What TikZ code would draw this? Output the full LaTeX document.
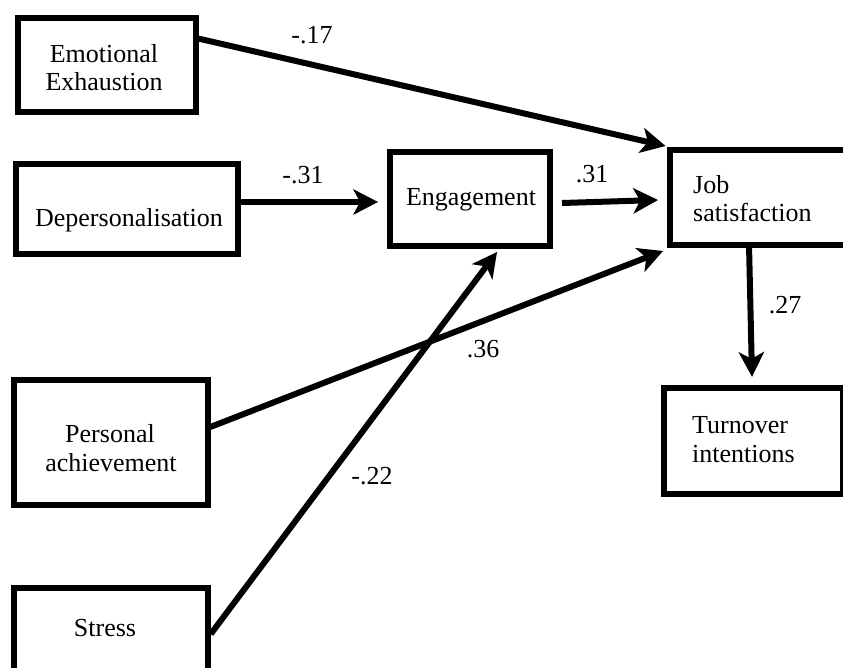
\documentclass[tikz,border=0pt]{standalone}
\usepackage{fontspec}
\setmainfont{Liberation Serif}
\usetikzlibrary{arrows.meta,calc}
\begin{document}
\begin{tikzpicture}[x=1pt,y=-1pt,
  box/.style={draw,line width=6pt,rectangle,inner sep=0pt,outer sep=0pt},
  txt/.style={font=\fontsize{26}{30}\selectfont,inner sep=0pt,anchor=base},
  ltxt/.style={txt,anchor=base west},
  arr/.style={line width=6pt,-{Stealth[length=25pt,width=26pt,inset=7pt,line width=0pt]}}]
\useasboundingbox (0,0) rectangle (843,667);
\clip (0,0) rectangle (843,667);
% boxes
\node[box,minimum width=178pt,minimum height=94pt] (EE) at (107,65) {};
\node[box,minimum width=222pt,minimum height=90pt] (Dep) at (127,209) {};
\node[box,minimum width=160pt,minimum height=94pt] (Eng) at (470,199) {};
\node[box,minimum width=180.5pt,minimum height=94.5pt] (JS) at (759.75,197.25) {};
\node[box,minimum width=179pt,minimum height=106.5pt] (TI) at (753,441) {};
\node[box,minimum width=193.5pt,minimum height=125pt] (PA) at (111,442) {};
\node[box,minimum width=193.5pt,minimum height=112pt] (ST) at (111,644) {};
% texts
\node[txt] (EE1) at (104,62) {Emotional};
\node[txt] (EE2) at (104,90) {Exhaustion};
\node[txt] (Dep1) at (129,226) {Depersonalisation};
\node[txt] (Eng1) at (471,205) {Engagement};
\node[ltxt] (JS1) at (693,193) {Job};
\node[ltxt] (JS2) at (693,221) {satisfaction};
\node[ltxt] (TI1) at (692,433) {Turnover};
\node[ltxt] (TI2) at (692,462) {intentions};
\node[txt] (PA1) at (110,442) {Personal};
\node[txt] (PA2) at (111,471) {achievement};
\node[txt] (ST1) at (105,636) {Stress};
% arrows
\draw[arr] ($(EE.east)+(0,-27)$) -- ($(JS.north west)+(-4,-4)$);
\draw[arr] ($(Dep.east)+(0,-7)$) -- ($(Eng.west)+(-12,3)$);
\draw[arr] ($(Eng.east)+(12,4)$) -- ($(JS.west)+(-11.5,2.75)$);
\draw[arr] ($(PA.east)+(0,-14)$) -- ($(JS.south west)+(-6.5,6.5)$);
\draw[arr] ($(ST.east)+(3,-10)$) -- ($(Eng.south)+(27,6)$);
\draw[arr] ($(JS.south west)+(79.5,0)$) -- ($(TI.north west)+(88.5,-11)$);
% labels
\node[txt] (L1) at (312,43) {-.17};
\node[txt] (L2) at (303,183) {-.31};
\node[txt] (L3) at (592,182) {.31};
\node[txt] (L4) at (785,313) {.27};
\node[txt] (L5) at (483,357) {.36};
\node[txt] (L6) at (372,484) {-.22};
\end{tikzpicture}
\end{document}
